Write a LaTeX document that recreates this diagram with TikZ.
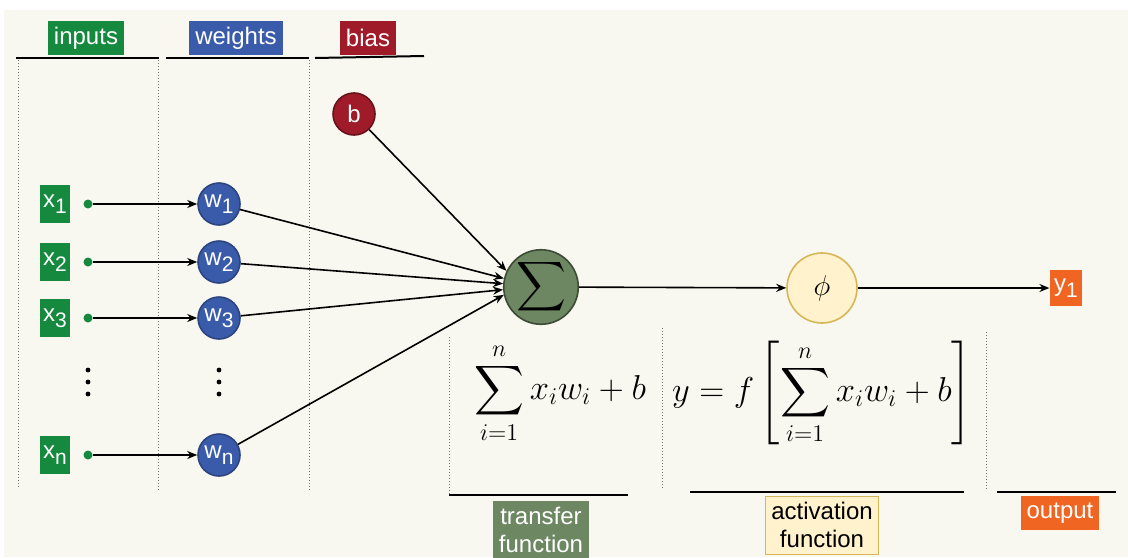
\documentclass[tikz,border=0pt]{standalone}
\usepackage{amsmath}
\usepackage{fontspec}
\setsansfont{Liberation Sans}
\usetikzlibrary{arrows.meta}

\definecolor{bgcream}{RGB}{248,248,240}
\definecolor{ingreen}{RGB}{21,137,62}
\definecolor{wblue}{RGB}{58,91,170}
\definecolor{bred}{RGB}{160,27,42}
\definecolor{sgreen}{RGB}{109,135,98}
\definecolor{phifill}{RGB}{255,242,204}
\definecolor{phiedge}{RGB}{214,182,86}
\definecolor{outorange}{RGB}{241,101,34}

\newcommand{\lsub}[1]{{\fontsize{10.5}{10}\selectfont\raisebox{-3pt}{#1}}}

\begin{document}
\begin{tikzpicture}[x=0.5pt, y=-0.5pt, line width=0.8pt,
    >={Stealth[length=5pt,width=4pt]},
    tag/.style={font=\sffamily\fontsize{12}{14}\selectfont, text=white, inner xsep=3pt, inner ysep=2pt, minimum height=17pt},
    inbox/.style={tag, fill=ingreen, inner xsep=1.5pt, minimum width=14.5pt, minimum height=19pt},
    indot/.style={circle, fill=ingreen, inner sep=0pt, minimum size=4.5pt},
    wnode/.style={circle, draw=wblue!75!black, fill=wblue, text=white, minimum size=21pt, inner sep=0pt, font=\sffamily\fontsize{12}{14}\selectfont},
    topline/.style={line width=1pt},
    divider/.style={densely dotted, line width=0.5pt, black!55}]
    \fill[bgcream] (4,10) rectangle (1128,557);
    \useasboundingbox (0,0) rectangle (1128,557);

    \node[tag, fill=ingreen] (linputs) at (86,38) {inputs};
    \node[tag, fill=wblue] (lweights) at (236,38) {weights};
    \node[tag, fill=bred] (lbias) at (368,38) {bias};
    \draw[topline] (16,58) -- (159,58);
    \draw[topline] (166,58) -- (309,58);
    \draw[topline] (315,58) -- (424,56);

    \draw[divider] (18,60) -- (18,488);
    \draw[divider] (158,60) -- (158,491);
    \draw[divider] (309,60) -- (309,491);
    \draw[divider] (449,337) -- (449,495);
    \draw[divider] (662,328) -- (662,488);
    \draw[divider] (986,332) -- (986,490);

    \foreach \i/\y in {1/204,2/262,3/318,n/455} {
        \node[inbox] (x\i) at (55,\y) {x\lsub{\i}};
        \node[indot] (d\i) at (88,\y) {};
        \node[wnode] (w\i) at (219,\y) {w\lsub{\i}};
        \draw[->] (d\i) -- (w\i);
    }
    \foreach \y in {370,382,394} {
        \fill (88,\y) circle (1.2pt);
        \fill (219,\y) circle (1.2pt);
    }

    \node[circle, draw=bred!65!black, fill=bred, text=white, minimum size=21pt, inner sep=0pt, font=\sffamily\fontsize{12}{14}\selectfont] (b) at (354,114) {b};
    \node[circle, draw=sgreen!55!black, fill=sgreen, minimum size=34.5pt, inner sep=0pt] (sum) at (541,287) {\fontsize{16}{18}\selectfont$\displaystyle\sum$};
    \node[circle, draw=phiedge, fill=phifill, minimum size=35pt, inner sep=0pt] (phi) at (822,288) {\fontsize{15}{16}\selectfont$\phi$};
    \node[tag, fill=outorange, inner xsep=2pt, minimum height=18pt] (y1) at (1066,288) {y\lsub{1}};

    \draw[->] (b) -- (sum.155);
    \draw[->] (w1) -- (sum.167);
    \draw[->] (w2) -- (sum.175);
    \draw[->] (w3) -- (sum.184);
    \draw[->] (wn) -- (sum.192);
    \draw[->] (sum) -- (phi);
    \draw[->] (phi) -- (y1);

    \node (transfer) at (560,393) {\fontsize{17.5}{20}\selectfont$\displaystyle\sum_{i=1}^{n} x_i w_i + b$};
    \node (activation) at (822,393) {\fontsize{17.5}{20}\selectfont$\displaystyle y = f\left[\sum_{i=1}^{n} x_i w_i + b\right]$};

    \draw[topline] (449,495) -- (628,495);
    \draw[topline] (690,492) -- (964,492);
    \draw[topline] (997,492) -- (1116,492);
    \node[tag, fill=sgreen, align=center, inner ysep=3pt, minimum width=47pt, anchor=north] (ltransfer) at (541,500) {transfer\\function};
    \node[tag, fill=phifill, draw=phiedge, line width=0.5pt, text=black, align=center, inner ysep=3pt, minimum width=56pt, anchor=north] (lactivation) at (822,496) {activation\\function};
    \node[tag, fill=outorange] (loutput) at (1060,513) {output};
\end{tikzpicture}
\end{document}
